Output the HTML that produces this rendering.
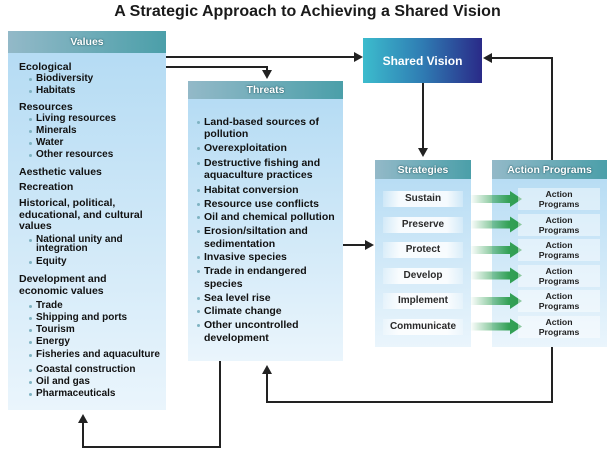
<!DOCTYPE html>
<html><head><meta charset="utf-8"><style>
body{margin:0;width:615px;height:453px;background:#fff;position:relative;overflow:hidden;font-family:"Liberation Sans",Arial,sans-serif;}
.t{position:absolute;white-space:nowrap;font-weight:bold;line-height:12px;color:#111;}
.h{font-size:10.5px}
.b{font-size:10px}
.th{font-size:10.5px}
.d{position:absolute;width:3px;height:3px;border-radius:50%;background:#7fb3c2}
.hd{position:absolute;color:#fff;font-weight:bold;font-size:10.5px;line-height:14px;text-align:center;white-space:nowrap;text-shadow:0 0 2px #2d6570,0 0 1px #2d6570;}
.sb{position:absolute;left:383px;width:80px;height:16px;line-height:16px;text-align:center;font-weight:bold;font-size:10px;color:#2a2a2a;background:linear-gradient(to right,rgba(255,255,255,0.25),rgba(255,255,255,0.85) 20%,rgba(255,255,255,0.85) 80%,rgba(255,255,255,0.25));}
.ab{position:absolute;left:518px;width:82px;height:22px;text-align:center;font-weight:bold;font-size:8.7px;line-height:10px;color:#222;background:rgba(255,255,255,0.45);padding-top:1px;box-sizing:border-box;}
</style></head><body>
<svg width="615" height="453" style="position:absolute;left:0;top:0">
<defs>
<linearGradient id="body" x1="0" y1="0" x2="0" y2="1"><stop offset="0" stop-color="#b2daf3"/><stop offset="1" stop-color="#eaf5fc"/></linearGradient>
<linearGradient id="hdr" x1="0" y1="0" x2="1" y2="0"><stop offset="0" stop-color="#93b9c8"/><stop offset="1" stop-color="#4b9fa9"/></linearGradient>
<linearGradient id="sv" x1="0" y1="0" x2="1" y2="0"><stop offset="0" stop-color="#3cbccd"/><stop offset="0.5" stop-color="#2f7cb3"/><stop offset="1" stop-color="#2a2a88"/></linearGradient>
<linearGradient id="gr" x1="0" y1="0" x2="1" y2="0"><stop offset="0" stop-color="#37a35a" stop-opacity="0"/><stop offset="0.75" stop-color="#33a156"/><stop offset="1" stop-color="#2f9b50"/></linearGradient>
</defs>
<!-- Values -->
<rect x="8" y="31" width="158" height="379" fill="url(#body)"/>
<rect x="8" y="31" width="158" height="22" fill="url(#hdr)"/>
<!-- Threats -->
<rect x="188" y="81" width="155" height="280" fill="url(#body)"/>
<rect x="188" y="81" width="155" height="18" fill="url(#hdr)"/>
<!-- Strategies -->
<rect x="375" y="160" width="96" height="187" fill="url(#body)"/>
<rect x="375" y="160" width="96" height="19" fill="url(#hdr)"/>
<!-- Action -->
<rect x="492" y="160" width="115" height="187" fill="url(#body)"/>
<rect x="492" y="160" width="115" height="19" fill="url(#hdr)"/>
<!-- Shared vision -->
<rect x="363" y="38" width="119" height="45" fill="url(#sv)"/>
<!-- connectors -->
<g stroke="#222" stroke-width="2" fill="none">
<polyline points="166,57 355,57"/>
<polyline points="166,67 267,67 267,71"/>
<polyline points="423,83 423,149"/>
<polyline points="552,160 552,58 491,58"/>
<polyline points="343,245 366,245"/>
<polyline points="552,347 552,402 267,402 267,373"/>
<polyline points="220,361 220,447 83,447 83,422"/>
</g>
<g fill="#222">
<polygon points="363,57 354,52 354,62"/>
<polygon points="267,79 262,70 272,70"/>
<polygon points="423,157 418,148 428,148"/>
<polygon points="483,58 492,53 492,63"/>
<polygon points="374,245 365,240 365,250"/>
<polygon points="267,365 262,374 272,374"/>
<polygon points="83,414 78,423 88,423"/>
</g>
<!-- green arrows -->
<g fill="url(#gr)">
<polygon points="470,195 510,195 510,191 522,199 510,207 510,203 470,203"/>
<polygon points="470,220.5 510,220.5 510,216.5 522,224.5 510,232.5 510,228.5 470,228.5"/>
<polygon points="470,246 510,246 510,242 522,250 510,258 510,254 470,254"/>
<polygon points="470,271.5 510,271.5 510,267.5 522,275.5 510,283.5 510,279.5 470,279.5"/>
<polygon points="470,297 510,297 510,293 522,301 510,309 510,305 470,305"/>
<polygon points="470,322.5 510,322.5 510,318.5 522,326.5 510,334.5 510,330.5 470,330.5"/>
</g>
</svg>

<div class="t" style="left:0;width:615px;top:2px;line-height:20px;font-size:16px;text-align:center;color:#1a1a1a;">A Strategic Approach to Achieving a Shared Vision</div>

<div class="hd" style="left:8px;width:158px;top:35px;">Values</div>
<div class="hd" style="left:188px;width:155px;top:83px;">Threats</div>
<div class="hd" style="left:375px;width:96px;top:163px;">Strategies</div>
<div class="hd" style="left:492px;width:115px;top:163px;">Action Programs</div>
<div class="t" style="left:363px;width:119px;top:53px;line-height:16px;font-size:12px;text-align:center;color:#fff;">Shared Vision</div>

<!-- Values text -->
<div class="t h" style="left:19px;top:61px">Ecological</div>
<div class="d" style="left:29px;top:78px"></div><div class="t b" style="left:36px;top:73px">Biodiversity</div>
<div class="d" style="left:29px;top:90px"></div><div class="t b" style="left:36px;top:85px">Habitats</div>
<div class="t h" style="left:19px;top:101px">Resources</div>
<div class="d" style="left:29px;top:118px"></div><div class="t b" style="left:36px;top:113px">Living resources</div>
<div class="d" style="left:29px;top:130px"></div><div class="t b" style="left:36px;top:125px">Minerals</div>
<div class="d" style="left:29px;top:142px"></div><div class="t b" style="left:36px;top:137px">Water</div>
<div class="d" style="left:29px;top:154px"></div><div class="t b" style="left:36px;top:149px">Other resources</div>
<div class="t h" style="left:19px;top:166px">Aesthetic values</div>
<div class="t h" style="left:19px;top:181px">Recreation</div>
<div class="t h" style="left:19px;top:197px">Historical, political,</div>
<div class="t h" style="left:19px;top:209px">educational, and cultural</div>
<div class="t h" style="left:19px;top:220px">values</div>
<div class="d" style="left:29px;top:239px"></div><div class="t b" style="left:36px;top:234px">National unity and</div>
<div class="t b" style="left:36px;top:243px">integration</div>
<div class="d" style="left:29px;top:261px"></div><div class="t b" style="left:36px;top:256px">Equity</div>
<div class="t h" style="left:19px;top:273px">Development and</div>
<div class="t h" style="left:19px;top:285px">economic values</div>
<div class="d" style="left:29px;top:305px"></div><div class="t b" style="left:36px;top:300px">Trade</div>
<div class="d" style="left:29px;top:317px"></div><div class="t b" style="left:36px;top:312px">Shipping and ports</div>
<div class="d" style="left:29px;top:329px"></div><div class="t b" style="left:36px;top:324px">Tourism</div>
<div class="d" style="left:29px;top:341px"></div><div class="t b" style="left:36px;top:336px">Energy</div>
<div class="d" style="left:29px;top:354px"></div><div class="t b" style="left:36px;top:349px">Fisheries and aquaculture</div>
<div class="d" style="left:29px;top:369px"></div><div class="t b" style="left:36px;top:364px">Coastal construction</div>
<div class="d" style="left:29px;top:381px"></div><div class="t b" style="left:36px;top:376px">Oil and gas</div>
<div class="d" style="left:29px;top:393px"></div><div class="t b" style="left:36px;top:388px">Pharmaceuticals</div>

<!-- Threats text -->
<div class="d" style="left:197px;top:121px"></div><div class="t th" style="left:204px;top:116px">Land-based sources of</div>
<div class="t th" style="left:204px;top:128px">pollution</div>
<div class="d" style="left:197px;top:147px"></div><div class="t th" style="left:204px;top:142px">Overexploitation</div>
<div class="d" style="left:197px;top:162px"></div><div class="t th" style="left:204px;top:157px">Destructive fishing and</div>
<div class="t th" style="left:204px;top:169px">aquaculture practices</div>
<div class="d" style="left:197px;top:189px"></div><div class="t th" style="left:204px;top:184px">Habitat conversion</div>
<div class="d" style="left:197px;top:203px"></div><div class="t th" style="left:204px;top:198px">Resource use conflicts</div>
<div class="d" style="left:197px;top:216px"></div><div class="t th" style="left:204px;top:211px">Oil and chemical pollution</div>
<div class="d" style="left:197px;top:230px"></div><div class="t th" style="left:204px;top:225px">Erosion/siltation and</div>
<div class="t th" style="left:204px;top:238px">sedimentation</div>
<div class="d" style="left:197px;top:256px"></div><div class="t th" style="left:204px;top:251px">Invasive species</div>
<div class="d" style="left:197px;top:270px"></div><div class="t th" style="left:204px;top:265px">Trade in endangered</div>
<div class="t th" style="left:204px;top:278px">species</div>
<div class="d" style="left:197px;top:297px"></div><div class="t th" style="left:204px;top:292px">Sea level rise</div>
<div class="d" style="left:197px;top:310px"></div><div class="t th" style="left:204px;top:305px">Climate change</div>
<div class="d" style="left:197px;top:324px"></div><div class="t th" style="left:204px;top:319px">Other uncontrolled</div>
<div class="t th" style="left:204px;top:332px">development</div>

<!-- Strategy buttons -->
<div class="sb" style="top:191px">Sustain</div>
<div class="sb" style="top:216.5px">Preserve</div>
<div class="sb" style="top:242px">Protect</div>
<div class="sb" style="top:267.5px">Develop</div>
<div class="sb" style="top:293px">Implement</div>
<div class="sb" style="top:318.5px">Communicate</div>

<!-- Action sub boxes -->
<div class="ab" style="top:188px">Action<br>Programs</div>
<div class="ab" style="top:213.5px">Action<br>Programs</div>
<div class="ab" style="top:239px">Action<br>Programs</div>
<div class="ab" style="top:264.5px">Action<br>Programs</div>
<div class="ab" style="top:290px">Action<br>Programs</div>
<div class="ab" style="top:315.5px">Action<br>Programs</div>
</body></html>
